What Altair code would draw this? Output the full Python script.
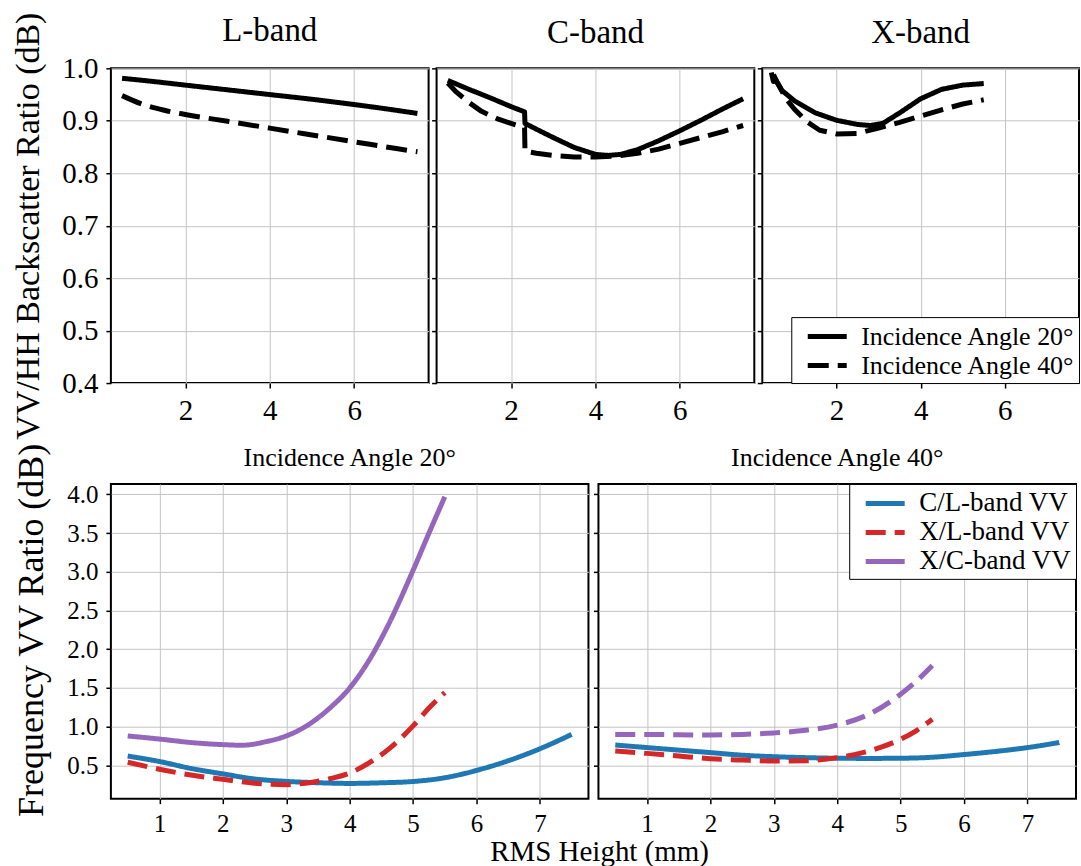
import altair as alt
import pandas as pd

FONT = "Liberation Serif"
XDOM = [0.235, 7.765]

ANG20 = "Incidence Angle 20°"
ANG40 = "Incidence Angle 40°"
SERIES = ["C/L-band VV", "X/L-band VV", "X/C-band VV"]
COLORS = ["#1f77b4", "#d62728", "#9467bd"]
SOLID = [1, 0]
DASH = [21, 9]
BDASH = [20, 9]
LINE_SYMBOL = "M-0.23,0H2.77"

# ---------------- top row: VV/HH backscatter ratio (dB) ----------------
L_x20 = [0.5, 1.0, 2.0, 3.0, 4.0, 5.0, 6.0, 7.0, 7.5]
L_y20 = [0.981, 0.977, 0.968, 0.959, 0.950, 0.941, 0.931, 0.920, 0.914]
L_x40 = [0.5, 1.0, 1.5, 2.0, 3.0, 4.0, 5.0, 6.0, 7.0, 7.5]
L_y40 = [0.948, 0.931, 0.920, 0.912, 0.899, 0.886, 0.873, 0.860, 0.847, 0.841]

C_x20 = [0.5, 1.0, 1.5, 2.0, 2.32, 2.33, 2.6, 3.0, 3.5, 4.0, 4.3, 4.6, 5.0, 5.5, 6.0, 6.5, 7.0, 7.5]
C_y20 = [0.977, 0.960, 0.944, 0.927, 0.917, 0.895, 0.884, 0.868, 0.849, 0.836, 0.834, 0.836, 0.845, 0.862, 0.881, 0.901, 0.922, 0.942]
C_x40 = [0.5, 0.7, 1.0, 1.3, 1.7, 2.0, 2.32, 2.33, 2.6, 3.0, 3.5, 4.0, 4.5, 5.0, 5.5, 6.0, 6.5, 7.0, 7.5]
C_y40 = [0.972, 0.955, 0.935, 0.918, 0.903, 0.895, 0.887, 0.842, 0.838, 0.834, 0.831, 0.831, 0.833, 0.838, 0.846, 0.857, 0.868, 0.879, 0.891]

X_x20 = [0.45, 0.5, 0.55, 0.7, 1.0, 1.5, 2.0, 2.5, 2.8, 3.1, 3.5, 4.0, 4.5, 5.0, 5.5]
X_y20 = [0.992, 0.975, 0.978, 0.958, 0.938, 0.915, 0.901, 0.893, 0.891, 0.895, 0.915, 0.942, 0.960, 0.968, 0.971]
X_x40 = [0.5, 0.6, 0.8, 1.0, 1.3, 1.6, 2.0, 2.5, 3.0, 3.5, 4.0, 4.5, 5.0, 5.5]
X_y40 = [0.988, 0.972, 0.942, 0.922, 0.898, 0.882, 0.875, 0.876, 0.886, 0.897, 0.909, 0.921, 0.932, 0.940]

# ---------------- bottom row: frequency VV ratio (dB) ----------------
CL20_x = [0.5, 1.0, 1.5, 2.0, 2.5, 3.0, 3.5, 4.0, 4.5, 5.0, 5.5, 6.0, 6.5, 7.0, 7.5]
CL20_y = [0.62, 0.55, 0.46, 0.39, 0.325, 0.293, 0.276, 0.267, 0.275, 0.292, 0.34, 0.435, 0.56, 0.715, 0.90]
XL20_x = [0.5, 1.0, 1.5, 2.0, 2.5, 3.0, 3.3, 3.7, 4.0, 4.3, 4.6, 5.0, 5.25, 5.5]
XL20_y = [0.54, 0.45, 0.375, 0.32, 0.27, 0.25, 0.27, 0.33, 0.40, 0.53, 0.70, 1.01, 1.24, 1.44]
XC20_x = [0.5, 1.0, 1.5, 2.0, 2.3, 2.7, 3.0, 3.3, 3.7, 4.0, 4.3, 4.6, 5.0, 5.25, 5.5]
XC20_y = [0.88, 0.84, 0.795, 0.768, 0.76, 0.81, 0.88, 1.0, 1.25, 1.5, 1.85, 2.3, 3.02, 3.5, 3.97]

CL40_x = [0.5, 1.0, 1.5, 2.0, 2.5, 3.0, 3.5, 4.0, 4.5, 5.0, 5.5, 6.0, 6.5, 7.0, 7.5]
CL40_y = [0.763, 0.73, 0.697, 0.665, 0.632, 0.612, 0.60, 0.592, 0.59, 0.592, 0.605, 0.64, 0.68, 0.73, 0.795]
XL40_x = [0.5, 1.0, 1.5, 2.0, 2.5, 3.0, 3.5, 4.0, 4.5, 5.0, 5.25, 5.5]
XL40_y = [0.686, 0.655, 0.62, 0.586, 0.568, 0.556, 0.56, 0.60, 0.686, 0.837, 0.95, 1.096]
XC40_x = [0.5, 1.0, 1.5, 2.0, 2.5, 3.0, 3.5, 4.0, 4.5, 5.0, 5.25, 5.5]
XC40_y = [0.90, 0.90, 0.895, 0.893, 0.90, 0.919, 0.953, 1.02, 1.16, 1.42, 1.59, 1.79]

TOP_YTICKS = [0.4, 0.5, 0.6, 0.7, 0.8, 0.9, 1.0]
TOP_XTICKS = [2, 4, 6]
BOT_YTICKS = [0.5, 1.0, 1.5, 2.0, 2.5, 3.0, 3.5, 4.0]
BOT_XTICKS = [1, 2, 3, 4, 5, 6, 7]
BOT_YDOM = [0.07, 4.135]


def frame(xs_list, ys_list, keys):
    rows = []
    for xs, ys, k in zip(xs_list, ys_list, keys):
        for i, (a, b) in enumerate(zip(xs, ys)):
            rows.append({"rms": a, "val": b, "key": k, "idx": i})
    return pd.DataFrame(rows)


def top_panel(name, x20, y20, x40, y40, width, first=False, legend=False, interp="monotone", dy=0):
    df = frame([x20, x40], [y20, y40], [ANG20, ANG40])
    if legend:
        leg = alt.Legend(title=None, orient="bottom-right", offset=0, fillColor="white",
                         strokeColor="black", padding=4, rowPadding=0, labelLimit=0,
                         labelFont=FONT, labelFontSize=26, labelColor="black", labelOffset=35,
                         symbolType=LINE_SYMBOL, symbolSize=676, symbolStrokeWidth=5,
                         symbolStrokeColor="black")
    else:
        leg = None
    yaxis = alt.Axis(values=TOP_YTICKS, format=".1f", labels=first, labelFontSize=29,
                     title="VV/HH Backscatter Ratio (dB)" if first else None)
    return alt.Chart(df, width=width, height=315,
                     title=alt.TitleParams(name, font=FONT, fontSize=33, fontWeight="normal",
                                           color="black", offset=18, frame="group", dy=dy)
                     ).mark_line(color="black", strokeWidth=5, interpolate=interp, strokeCap="butt",
                                 strokeJoin="round").encode(
        x=alt.X("rms:Q", scale=alt.Scale(domain=XDOM, nice=False, zero=False),
                axis=alt.Axis(values=TOP_XTICKS, format="d", title=None, labelFontSize=29)),
        y=alt.Y("val:Q", scale=alt.Scale(domain=[0.4, 1.0], nice=False, zero=False), axis=yaxis),
        strokeDash=alt.StrokeDash("key:N", scale=alt.Scale(domain=[ANG20, ANG40], range=[SOLID, DASH]),
                                  legend=leg),
        order=alt.Order("idx:Q"),
    )


def bottom_layer(df, legend, xaxis, yaxis, dash_value=None):
    xs = alt.X("rms:Q", scale=alt.Scale(domain=XDOM, nice=False, zero=False), axis=xaxis)
    ys = alt.Y("val:Q", scale=alt.Scale(domain=BOT_YDOM, nice=False, zero=False), axis=yaxis)
    color = alt.Color("key:N", scale=alt.Scale(domain=SERIES, range=COLORS), legend=legend)
    base = alt.Chart(df).mark_line(strokeWidth=5, interpolate="monotone", strokeCap="butt",
                                   strokeJoin="round")
    if dash_value is None:
        return base.encode(
            x=xs, y=ys, color=color,
            strokeDash=alt.StrokeDash("key:N", scale=alt.Scale(domain=SERIES, range=[SOLID, BDASH, SOLID]),
                                      legend=legend),
            order=alt.Order("idx:Q"),
        )
    return base.encode(x=xs, y=ys, color=color, strokeDash=alt.value(dash_value), order=alt.Order("idx:Q"))


def bot_axes(first):
    xaxis = alt.Axis(values=BOT_XTICKS, format="d", labelFontSize=25, title=None)
    if first:
        yaxis = alt.Axis(values=BOT_YTICKS, format=".1f", labelFontSize=25,
                         title="Frequency VV Ratio (dB)", titleFontSize=36, titleY=146)
    else:
        yaxis = alt.Axis(values=BOT_YTICKS, format=".1f", labels=False, title=None)
    return xaxis, yaxis


def bot_title(t, dy=0):
    return alt.TitleParams(t, font=FONT, fontSize=26, fontWeight="normal", color="black",
                           offset=12, frame="group", dy=dy)


# left bottom (20 deg)
df20 = frame([CL20_x, XL20_x, XC20_x], [CL20_y, XL20_y, XC20_y], SERIES)
xa, ya = bot_axes(True)
b20 = bottom_layer(df20, None, xa, ya).properties(
    width=478, height=315, title=bot_title("Incidence Angle 20°", dy=40))

# right bottom (40 deg)
leg_b = alt.Legend(title=None, orient="top-right", offset=0, fillColor="white",
                   strokeColor="black", padding=4, rowPadding=0, labelLimit=0,
                   labelFont=FONT, labelFontSize=27, labelColor="black", labelOffset=35,
                   symbolType=LINE_SYMBOL, symbolSize=676, symbolStrokeWidth=5)
df40a = frame([CL40_x, XL40_x], [CL40_y, XL40_y], SERIES[:2])
df40b = frame([XC40_x], [XC40_y], SERIES[2:])
xa2, ya2 = bot_axes(False)
l1 = bottom_layer(df40a, leg_b, xa2, ya2)
l2 = bottom_layer(df40b, leg_b, xa2, ya2, dash_value=BDASH)
b40 = alt.layer(l1, l2).properties(width=478, height=315, title=bot_title("Incidence Angle 40°"))

topL = top_panel("L-band", L_x20, L_y20, L_x40, L_y40, 318, first=True, dy=54)
topC = top_panel("C-band", C_x20, C_y20, C_x40, C_y40, 318, interp="linear")
topX = top_panel("X-band", X_x20, X_y20, X_x40, X_y40, 317, legend=True, interp="linear")

top = alt.hconcat(topL, topC, topX, spacing=0).resolve_scale(strokeDash="independent")
bottom = alt.hconcat(b20, b40, spacing=2).resolve_scale(color="independent", strokeDash="independent")

chart = alt.vconcat(top, bottom, spacing=0).resolve_scale(
    color="independent", strokeDash="independent"
).properties(
    title=alt.TitleParams("RMS Height (mm)", orient="bottom", anchor="middle", font=FONT,
                          fontSize=29, fontWeight="normal", color="black", offset=0, dx=54),
    padding={"left": 10, "top": 10, "right": 0, "bottom": 0},
    background="white",
).configure_view(
    stroke="black", strokeWidth=2
).configure_axis(
    domain=False, grid=True, gridColor="#c4c4c4", gridWidth=1,
    tickColor="black", tickSize=5, tickWidth=1.5, labelPadding=8,
    labelFont=FONT, labelColor="black", titleFont=FONT, titleFontWeight="normal",
    titleColor="black", titleFontSize=34, titlePadding=16,
)

chart.save("out.html", embed_options={"renderer": "svg", "actions": False})
